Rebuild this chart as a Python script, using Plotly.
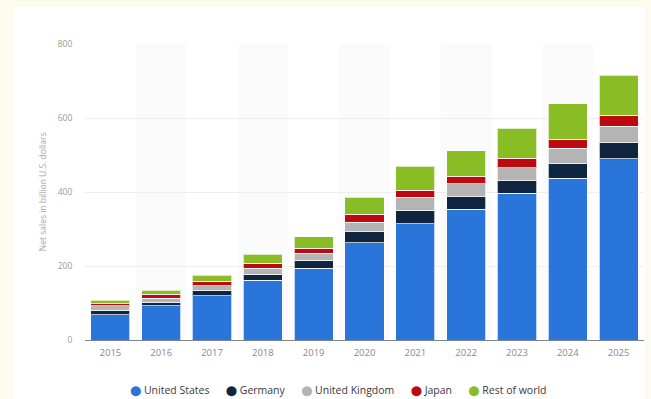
import plotly.graph_objects as go

years = ["2015", "2016", "2017", "2018", "2019", "2020", "2021", "2022", "2023", "2024", "2025"]
united_states = [68, 92, 119, 162, 194, 263, 314, 353, 396, 437, 490]
germany = [13, 10, 14, 16, 22, 30, 37, 34, 34, 39, 43]
united_kingdom = [11, 11, 14, 16, 18, 25, 35, 35, 36, 42, 45]
japan = [6, 10, 12, 13, 14, 22, 19, 21, 25, 24, 30]
rest_of_world = [9, 12, 16, 25, 31, 46, 65, 69, 81, 96, 108]

series = [
    ("United States", united_states, "#2a75d9"),
    ("Germany", germany, "#102540"),
    ("United Kingdom", united_kingdom, "#b4b4b4"),
    ("Japan", japan, "#bd0a10"),
    ("Rest of world", rest_of_world, "#88bd26"),
]

y_ticks = [0, 200, 400, 600, 800]

fig = go.Figure()
for name, vals, col in series:
    fig.add_trace(go.Bar(
        x=years, y=vals, name=name, showlegend=False,
        marker=dict(color=col, line=dict(color="rgba(255,255,255,0.7)", width=1)),
    ))

shapes = [
    dict(type="rect", xref="paper", yref="paper", x0=-0.129, x1=1.002, y0=-0.4, y1=1.125,
         fillcolor="white", line=dict(width=0), layer="below"),
]
for i in range(1, len(years), 2):
    shapes.append(dict(type="rect", xref="x", yref="y", x0=i - 0.5, x1=i + 0.5,
                       y0=0, y1=y_ticks[-1], fillcolor="#fbfbfb", line=dict(width=0),
                       layer="below"))

legend_html = "&nbsp;&nbsp;&nbsp;&nbsp;&nbsp;&nbsp;".join(
    f"<span style='color:{col};font-family:DejaVu Sans;font-size:10px'>⬤</span>&nbsp;{name}"
    for name, _, col in series
)

fig.update_layout(
    width=651, height=399,
    margin=dict(l=85, r=7, t=44, b=59, autoexpand=False),
    paper_bgcolor="#fdfbee",
    plot_bgcolor="rgba(0,0,0,0)",
    barmode="stack",
    bargap=0.23,
    font=dict(family="Open Sans, sans-serif", color="#8a8a8a"),
    shapes=shapes,
    showlegend=False,
    annotations=[
        dict(text="Net sales in billion U.S. dollars", xref="paper", yref="paper",
             x=-0.09, y=0.5, textangle=-90, showarrow=False,
             font=dict(size=8.5, color="#a8a8a8")),
        dict(text=legend_html, xref="paper", yref="paper", x=0.454, y=-0.169,
             xanchor="center", yanchor="middle", showarrow=False,
             font=dict(size=10.5, color="#3a3a3a")),
    ],
)
fig.update_xaxes(showline=True, linecolor="#7a8590", linewidth=1, showgrid=False,
                 tickfont=dict(size=9.5, color="#8a8a8a"), ticks="outside", ticklen=4,
                 tickcolor="rgba(0,0,0,0)")
fig.update_yaxes(range=[0, 800], tickvals=y_ticks, showgrid=True, gridcolor="#eeeeee",
                 zeroline=False, tickfont=dict(size=8.5, color="#9a9a9a"),
                 ticks="outside", ticklen=10, tickcolor="rgba(0,0,0,0)")

fig.write_html("out.html")
